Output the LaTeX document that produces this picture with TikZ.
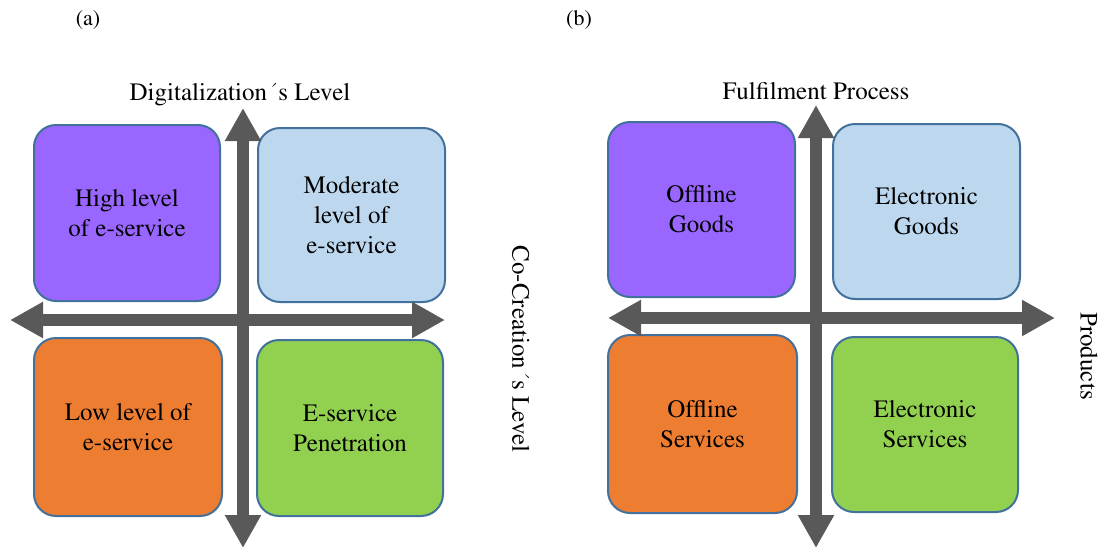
\documentclass[tikz,border=0pt]{standalone}
\usepackage[T1]{fontenc}
\usepackage{mathptmx}
\usetikzlibrary{arrows.meta}
\definecolor{cpurple}{HTML}{9966FF}
\definecolor{cblue}{HTML}{BDD7EE}
\definecolor{corange}{HTML}{ED7D31}
\definecolor{cgreen}{HTML}{92D050}
\definecolor{cborder}{HTML}{41719C}
\definecolor{carrow}{HTML}{595959}
\begin{document}
\begin{tikzpicture}[x=1pt,y=-1pt,
  quad/.style={draw=cborder, line width=2pt, rounded corners=22pt, inner sep=0pt,
    align=center, font=\fontsize{25}{30}\selectfont},
  axisline/.style={draw=carrow, line width=12pt,
    arrows={Triangle[length=33pt,width=34pt]-Triangle[length=33pt,width=34pt]}},
  lbl/.style={inner sep=0pt, font=\fontsize{25}{30}\selectfont},
  tag/.style={inner sep=0pt, font=\fontsize{22}{26}\selectfont}]
\useasboundingbox (0,0) rectangle (1100,549);

% panel (a)
\node[tag] (ta) at (88,20) {(a)};
\node[quad, fill=cpurple, minimum width=186pt, minimum height=176pt] (a1) at (127,213) {High level\\of e-service};
\node[quad, fill=cblue, minimum width=187pt, minimum height=174pt] (a2) at (351.5,215) {Moderate\\level of\\e-service};
\node[quad, fill=corange, minimum width=188pt, minimum height=178pt] (a3) at (128,427) {Low level of\\e-service};
\node[quad, fill=cgreen, minimum width=186pt, minimum height=176pt] (a4) at (350,428) {E-service\\Penetration};
\coordinate (aT) at (243,108);
\coordinate (aB) at (243,548);
\coordinate (aL) at (10,320);
\coordinate (aR) at (445,320);
\draw[axisline] (aB) -- (aT);
\draw[axisline] (aL) -- (aR);
\node[lbl] (ya) at (240,95) {Digitalization\textasciiacute s Level};
\node[lbl, rotate=-90] (xa) at (521,349) {Co-Creation\textasciiacute s Level};

% panel (b)
\node[tag] (tb) at (579,20) {(b)};
\node[quad, fill=cpurple, minimum width=187pt, minimum height=175pt] (b1) at (701.5,209.5) {Offline\\Goods};
\node[quad, fill=cblue, minimum width=187pt, minimum height=175pt] (b2) at (926.5,211.5) {Electronic\\Goods};
\node[quad, fill=corange, minimum width=189pt, minimum height=178pt] (b3) at (702.5,424) {Offline\\Services};
\node[quad, fill=cgreen, minimum width=186pt, minimum height=175pt] (b4) at (925,424.5) {Electronic\\Services};
\coordinate (bT) at (816,105);
\coordinate (bB) at (816,548);
\coordinate (bL) at (608,318);
\coordinate (bR) at (1055,318);
\draw[axisline] (bB) -- (bT);
\draw[axisline] (bL) -- (bR);
\node[lbl] (yb) at (816,91) {Fulfilment Process};
\node[lbl, rotate=-90] (xb) at (1089,356) {Products};
\end{tikzpicture}
\end{document}
